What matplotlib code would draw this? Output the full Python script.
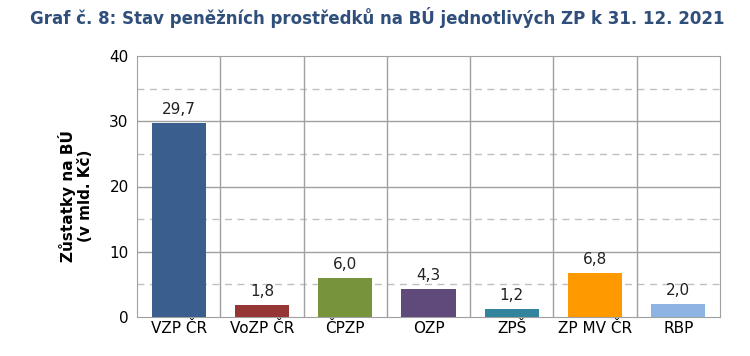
import matplotlib
matplotlib.use("Agg")
import matplotlib.pyplot as plt
import numpy as np

categories = ["VZP ČR", "VoZP ČR", "ČPZP", "OZP", "ZPŠ", "ZP MV ČR", "RBP"]
values = [29.7, 1.8, 6.0, 4.3, 1.2, 6.8, 2.0]
colors = ["#3a5f8f", "#963634", "#77933c", "#604a7b", "#31849b", "#ff9900", "#8eb4e3"]

plt.rcParams['font.family'] = ['DejaVu Sans']

fig = plt.figure(figsize=(7.5, 3.56), dpi=100)
ax = fig.add_axes([137/750, 1 - 317/356, (720-137)/750, (317-56)/356])

x = np.arange(len(categories))
ax.bar(x, values, width=0.65, color=colors, zorder=3)
for xi, v in zip(x, values):
    ax.text(xi, v + 0.9, f"{v:.1f}".replace(".", ","), ha="center", va="bottom", fontsize=11, color="#222222", zorder=4)

ax.set_xlim(-0.5, len(categories) - 0.5)
ax.set_ylim(0, 40)
ax.set_yticks([0, 10, 20, 30, 40])
ax.set_xticks(x)
ax.set_xticklabels(categories, fontsize=11)
ax.tick_params(axis="y", labelsize=11, length=0, pad=6)
ax.tick_params(axis="x", length=0, pad=3)

for y in [10, 20, 30]:
    ax.axhline(y, color="#a0a0a0", lw=1, zorder=1)
for y in [5, 15, 25, 35]:
    ax.axhline(y, color="#c0c0c0", lw=1, ls=(0, (5, 4)), zorder=1)
for b in np.arange(0.5, len(categories) - 0.5, 1):
    ax.axvline(b, color="#a0a0a0", lw=1, zorder=1)
for s in ax.spines.values():
    s.set_color("#a0a0a0")

ax.set_ylabel("Zůstatky na BÚ\n(v mld. Kč)", fontsize=11, fontweight="bold")
ax.yaxis.set_label_coords(-0.075, 0.465)

fig.text(0.503, 0.95, "Graf č. 8: Stav peněžních prostředků na BÚ jednotlivých ZP k 31. 12. 2021",
         ha="center", va="center", fontsize=12, fontweight="bold", color="#2f4f7a")

fig.savefig("out.png", dpi=100)
